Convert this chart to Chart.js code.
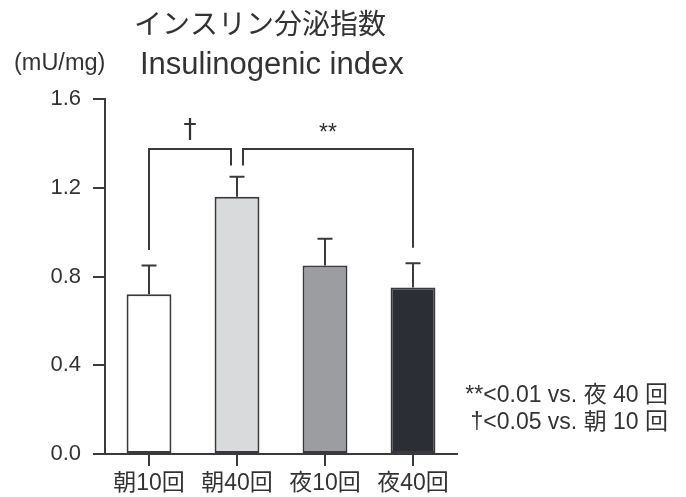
<!DOCTYPE html>
<html>
<head>
<meta charset="utf-8">
<script src="https://cdn.jsdelivr.net/npm/chart.js@4/dist/chart.umd.min.js"></script>
<style>
  html, body { margin: 0; padding: 0; background: #fff; }
  #wrap { width: 686px; height: 497px; position: relative; }
</style>
</head>
<body>
<div id="wrap"><canvas id="c"></canvas></div>
<script>
// Insulinogenic index by training schedule (mean + SEM)
const categories = ['朝10回', '朝40回', '夜10回', '夜40回'];
const means = [0.72, 1.16, 0.85, 0.75];
const sem = [0.13, 0.09, 0.12, 0.11];
const yTicks = [0.0, 0.4, 0.8, 1.2, 1.6];

// Significance brackets: compared groups, bracket ends (value units), top level, marker
const sigPairs = [[0, 1], [1, 3]];
const sigEnds = [[0.92, 1.30], [1.30, 0.93]];
const sigTop = 1.375;
const sigMarks = ['†', '**'];

const titleJa = 'インスリン分泌指数';
const titleEn = 'Insulinogenic index';
const unitLabel = '(mU/mg)';
const notes = ['**<0.01 vs. 夜 40 回', '†<0.05 vs. 朝 10 回'];

const FONT = '"Liberation Sans", Arial, "Noto Sans CJK JP", sans-serif';
const MARK_FONT = '"DejaVu Sans", "Liberation Sans", sans-serif';
const INK = '#333333';
const LINE = '#3a3a3e';

Chart.defaults.font.family = FONT;
Chart.defaults.color = INK;

const barFills = ['#ffffff', '#d9dadc', '#9c9da1', '#2c2e35'];

// error bars: upward whisker with a cap
const errorBars = {
  id: 'errorBars',
  afterDatasetsDraw(chart) {
    const { ctx, scales: { y } } = chart;
    const meta = chart.getDatasetMeta(0);
    ctx.save();
    ctx.strokeStyle = LINE;
    ctx.lineWidth = 2;
    meta.data.forEach((bar, i) => {
      const top = y.getPixelForValue(means[i] + sem[i]);
      const base = y.getPixelForValue(means[i]);
      const cap = bar.width / 3;
      ctx.beginPath();
      ctx.moveTo(bar.x, base);
      ctx.lineTo(bar.x, top);
      ctx.moveTo(bar.x - cap / 2, top);
      ctx.lineTo(bar.x + cap / 2, top);
      ctx.stroke();
    });
    ctx.restore();
  }
};

// significance brackets drawn on the category / value scales
const sigBrackets = {
  id: 'sigBrackets',
  afterDatasetsDraw(chart) {
    const { ctx, scales: { x, y } } = chart;
    const gap = 6;
    const used = {};
    sigPairs.forEach(p => { used[p[0]] = (used[p[0]] || 0) + 1; used[p[1]] = (used[p[1]] || 0) + 1; });
    ctx.save();
    ctx.strokeStyle = LINE;
    ctx.lineWidth = 2;
    ctx.lineJoin = 'miter';
    sigPairs.forEach((p, i) => {
      let x1 = x.getPixelForValue(p[0]);
      let x2 = x.getPixelForValue(p[1]);
      if (used[p[0]] > 1) x1 += gap;
      if (used[p[1]] > 1) x2 -= gap;
      const yt = y.getPixelForValue(sigTop);
      ctx.beginPath();
      ctx.moveTo(x1, y.getPixelForValue(sigEnds[i][0]));
      ctx.lineTo(x1, yt);
      ctx.lineTo(x2, yt);
      ctx.lineTo(x2, y.getPixelForValue(sigEnds[i][1]));
      ctx.stroke();
      ctx.fillStyle = INK;
      ctx.textAlign = 'center';
      ctx.textBaseline = 'alphabetic';
      if (sigMarks[i] === '†') {
        ctx.font = '26px ' + MARK_FONT;
        ctx.fillText(sigMarks[i], (x1 + x2) / 2, yt - 11);
      } else {
        ctx.font = '23px ' + FONT;
        ctx.fillText(sigMarks[i], (x1 + x2) / 2, yt - 9);
      }
    });
    ctx.restore();
  }
};

// titles, unit and footnotes
const annotations = {
  id: 'annotations',
  afterDraw(chart) {
    const { ctx } = chart;
    ctx.save();
    ctx.fillStyle = INK;
    ctx.textAlign = 'left';
    ctx.textBaseline = 'middle';
    ctx.font = '28px ' + FONT;
    ctx.fillText(titleJa, 134, 26);
    ctx.textBaseline = 'alphabetic';
    ctx.font = '31px ' + FONT;
    ctx.fillText(titleEn, 140, 74);
    ctx.font = '23.5px ' + FONT;
    ctx.fillText(unitLabel, 14, 69.5);
    ctx.textAlign = 'right';
    ctx.textBaseline = 'middle';
    ctx.font = '23px ' + FONT;
    ctx.fillText(notes[0], 668, 396);
    ctx.fillText(notes[1], 668, 423);
    ctx.restore();
  }
};

new Chart(document.getElementById('c'), {
  type: 'bar',
  data: {
    labels: categories,
    datasets: [{
      data: means,
      backgroundColor: barFills,
      borderColor: LINE,
      borderWidth: 2,
      borderSkipped: false,
      barPercentage: 0.51,
      categoryPercentage: 1.0
    }]
  },
  options: {
    responsive: true,
    maintainAspectRatio: false,
    animation: false,
    devicePixelRatio: 1,
    layout: { padding: { top: 99, right: 229, left: 0, bottom: 0 } },
    plugins: { legend: { display: false }, tooltip: { enabled: false }, title: { display: false } },
    scales: {
      x: {
        offset: true,
        grid: { display: true, drawOnChartArea: false, drawTicks: true, tickLength: 12, offset: false, color: LINE, lineWidth: 2 },
        border: { display: true, color: LINE, width: 2 },
        ticks: { color: INK, font: { size: 23 }, padding: 4, maxRotation: 0 },
        afterFit(s) { s.height = 43; }
      },
      y: {
        min: 0, max: 1.6,
        afterBuildTicks(s) { s.ticks = yTicks.map(v => ({ value: v })); },
        grid: { display: true, drawOnChartArea: false, drawTicks: true, tickLength: 12, color: LINE, lineWidth: 2 },
        border: { display: true, color: LINE, width: 2 },
        ticks: { color: INK, font: { size: 22 }, padding: 12, callback: v => Number(v).toFixed(1) },
        afterFit(s) { s.width = 105; }
      }
    }
  },
  plugins: [errorBars, sigBrackets, annotations]
});
</script>
</body>
</html>
